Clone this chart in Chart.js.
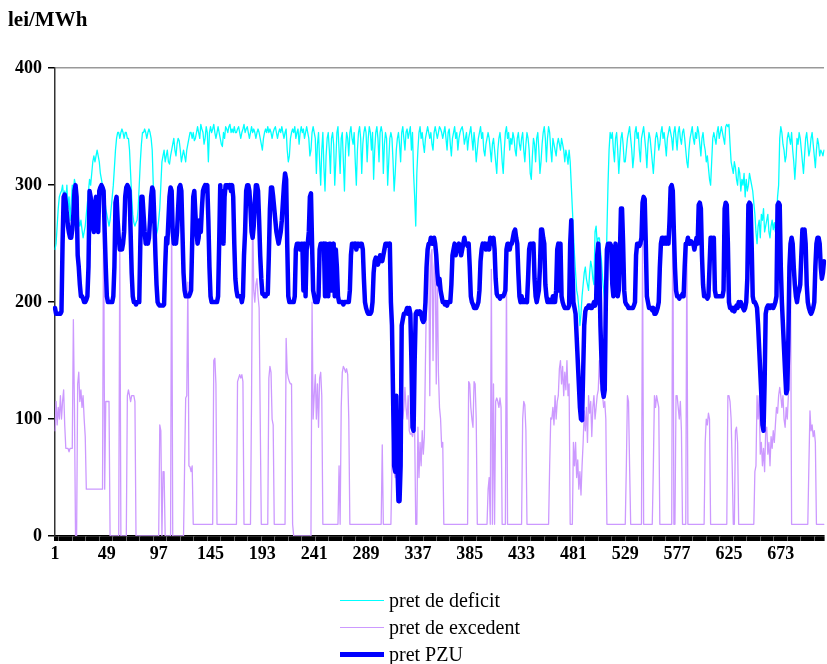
<!DOCTYPE html>
<html>
<head>
<meta charset="utf-8">
<script src="https://cdn.jsdelivr.net/npm/chart.js@4.4.1/dist/chart.umd.min.js"></script>
<style>
  html, body { margin: 0; padding: 0; background: #fff; }
  #wrap { position: relative; width: 827px; height: 664px; }
  #legend { position: absolute; left: 340px; top: 587px; font-family: "Liberation Serif", "Times New Roman", serif; font-size: 20px; color: #000; }
  .item { display: flex; align-items: center; height: 27px; }
  .swatch { width: 44px; margin-right: 5px; }
</style>
</head>
<body>
<div id="wrap">
  <canvas id="c" width="827" height="664"></canvas>
  <div id="legend"></div>
</div>
<script>
// Hourly prices for the month (lei/MWh), one row per day.
const deficit = [
  245,250,265,280,290,293,295,300,290,295,285,300,280,290,270,285,300,295,305,300,290,280,270,265,
  270,262,255,260,265,275,285,295,305,300,310,320,325,320,325,330,325,320,310,305,300,295,290,280,
  275,270,265,270,280,290,300,315,330,340,345,345,340,345,348,345,340,345,345,340,340,330,310,290,
  275,268,265,268,270,280,300,320,335,345,345,348,345,340,345,348,345,340,330,300,280,265,258,262,
  270,280,300,320,325,330,320,325,330,320,318,325,330,335,340,330,325,335,340,338,330,320,325,330,
  325,320,330,335,340,345,345,340,345,338,340,345,350,345,340,352,348,345,335,340,350,345,320,345,
  350,345,348,352,345,340,345,350,345,340,335,333,345,340,350,348,345,350,352,345,348,345,350,345,
  345,348,350,345,340,345,348,352,345,348,350,345,340,345,350,345,348,345,340,345,348,345,340,335,
  330,340,345,348,345,350,345,348,345,340,345,348,350,345,340,345,348,345,350,345,340,345,348,330,
  320,325,340,345,348,345,350,340,345,348,335,345,350,345,348,340,345,350,345,340,325,330,345,350,
  345,340,310,335,345,320,300,330,345,315,295,325,340,345,330,310,340,345,335,300,320,345,350,330,
  310,340,345,320,295,330,345,340,325,345,350,340,335,345,320,300,330,345,350,340,310,335,345,350,
  345,320,340,350,345,330,345,305,330,345,350,340,320,345,350,345,310,335,345,340,300,320,340,345,
  340,320,295,310,330,340,345,335,320,345,350,340,330,345,348,340,345,350,330,345,310,290,265,310,
  330,345,350,340,345,335,328,340,345,350,345,340,345,335,330,345,350,345,340,345,350,348,345,340,
  345,350,340,330,345,348,335,325,340,345,350,340,345,330,340,345,348,350,345,335,340,345,330,340,
  345,350,340,330,345,335,320,330,340,345,350,340,345,330,325,335,340,345,340,330,320,335,340,330,
  320,310,330,340,345,335,320,310,330,345,350,340,345,330,340,335,345,340,330,325,340,345,335,330,
  340,345,330,320,335,345,340,330,310,305,325,340,335,320,340,345,330,310,320,335,345,350,340,320,
  340,350,345,330,320,340,335,330,325,335,340,335,330,340,335,330,320,330,325,318,330,320,300,280,
  260,240,225,210,205,195,180,190,205,215,225,230,220,215,210,225,235,230,220,215,260,265,250,255,
  255,245,235,220,210,200,215,260,300,330,345,340,345,330,320,340,345,330,310,325,340,345,335,320,
  320,330,340,345,350,340,330,315,325,345,350,340,345,330,320,340,345,350,340,330,315,335,345,340,
  330,320,310,325,340,345,340,330,335,345,350,340,345,335,325,340,345,350,345,340,330,345,350,340,
  330,345,350,340,335,345,348,340,330,320,315,330,340,345,350,340,335,345,340,350,345,335,325,340,
  345,335,330,320,325,315,305,300,320,340,345,340,335,345,350,340,345,350,345,340,335,350,352,350,
  352,335,320,315,310,320,315,305,300,315,310,295,305,300,310,290,305,295,300,310,305,300,295,285,
  275,260,250,265,270,255,275,270,280,260,265,270,275,260,255,265,270,262,268,260,270,290,300,340,
  350,345,335,330,320,325,340,345,340,335,345,330,320,305,320,340,335,345,340,330,320,310,325,340,
  345,335,325,330,340,345,335,325,315,330,340,335,325,330,328,325,330
];

const excedent = [
  90,115,95,110,100,120,100,115,125,95,75,75,75,72,75,75,75,185,110,0,0,130,140,115,
  125,110,120,100,85,40,40,40,40,40,40,40,40,40,40,40,40,40,40,40,40,290,40,115,
  115,115,115,0,0,0,0,0,0,0,0,0,250,0,0,0,0,0,0,120,125,120,115,120,
  120,120,115,0,0,0,0,0,0,0,0,0,0,0,0,0,0,0,0,0,0,0,0,0,
  0,95,90,0,55,55,0,0,0,0,0,0,290,0,0,0,0,0,0,0,0,0,0,0,
  60,118,120,217,60,59,55,60,10,10,10,10,10,10,10,10,10,10,10,10,10,10,10,10,
  10,10,10,150,152,130,10,10,10,10,10,10,10,10,10,10,10,10,10,10,10,10,10,10,
  10,132,135,138,135,138,132,10,10,10,10,10,10,10,120,285,210,200,215,220,205,195,100,10,
  10,10,10,10,10,10,135,145,140,100,95,10,10,10,10,10,10,10,10,10,10,10,169,140,
  135,132,130,130,10,0,0,0,0,0,0,0,0,0,0,0,0,0,0,0,0,0,200,100,
  120,138,100,130,93,135,140,120,10,10,10,10,10,10,10,10,10,10,10,10,10,10,10,60,
  10,110,140,145,143,140,143,138,100,10,10,10,10,10,10,10,10,10,10,10,10,10,10,10,
  10,10,10,10,10,10,10,10,10,10,10,10,10,10,10,78,10,10,10,10,10,10,10,10,
  60,93,55,50,100,55,28,28,55,120,100,110,127,110,100,120,90,87,88,85,90,90,10,10,
  93,50,80,60,90,70,85,150,210,240,245,120,240,245,150,230,240,130,225,140,110,100,76,80,
  10,10,10,10,10,10,10,10,10,10,10,10,10,10,10,10,10,10,10,10,10,10,10,132,
  130,110,100,93,132,130,100,10,10,10,10,10,10,10,10,10,10,40,50,10,228,10,130,10,
  115,118,115,110,118,110,10,10,10,10,225,10,10,10,10,10,10,10,10,10,10,10,10,10,
  10,100,115,112,90,10,10,10,10,10,10,10,10,10,10,10,10,10,10,10,10,10,10,10,
  10,10,60,101,100,110,95,120,100,115,120,143,150,130,145,120,140,125,150,120,130,10,10,10,
  80,60,80,50,65,40,55,35,60,80,107,90,110,80,120,105,115,85,110,120,100,110,120,125,
  150,130,150,120,110,115,100,10,10,10,10,10,10,10,10,10,10,10,10,10,10,10,10,10,
  10,60,120,115,60,10,10,10,10,10,10,10,10,10,10,10,250,10,10,10,10,10,10,10,
  10,10,60,120,110,120,115,110,10,10,10,10,10,10,10,10,10,10,10,10,295,10,10,120,
  120,110,100,115,90,10,10,10,10,250,10,10,10,10,10,10,10,10,10,10,10,10,10,10,
  10,10,80,100,95,105,100,10,10,10,10,10,10,10,10,10,10,10,10,10,10,10,10,120,
  120,115,100,60,10,10,90,93,80,10,10,10,10,10,10,10,10,10,10,10,10,10,10,10,
  55,60,120,100,120,70,80,60,75,55,90,93,70,80,60,85,75,90,80,95,110,105,120,127,
  120,110,120,100,93,110,100,120,150,225,10,10,10,10,10,10,10,10,10,10,10,10,10,10,
  10,10,60,107,90,95,85,90,80,10,10,10,10,10,10,10,10
];

const pzu = [
  195,190,190,190,190,190,192,250,290,292,285,275,265,259,255,255,262,275,295,300,290,240,230,215,
  205,205,203,200,200,202,205,230,295,290,275,265,260,285,290,270,260,295,298,300,298,295,260,230,
  205,200,200,200,200,200,205,230,285,290,270,255,245,248,245,250,260,290,298,300,298,295,260,225,
  205,200,200,198,200,200,200,250,290,290,275,260,250,255,250,255,270,290,298,295,270,240,215,200,
  198,197,197,197,197,198,230,255,250,270,290,298,295,260,250,255,250,260,280,298,300,295,260,225,
  210,205,205,205,205,207,210,250,290,295,275,260,250,255,270,260,280,295,298,300,295,300,270,230,
  205,200,200,200,200,200,200,205,250,300,260,295,250,290,300,300,300,298,300,295,300,290,250,220,
  210,205,205,205,205,200,205,240,260,295,300,300,295,280,260,255,265,285,300,300,295,270,240,220,
  207,207,205,205,207,207,240,280,298,298,290,280,270,260,255,250,255,260,270,285,300,310,305,250,
  205,200,200,200,200,200,205,245,250,250,250,245,250,250,210,250,205,245,250,260,290,293,250,210,
  205,200,200,200,205,245,250,250,248,250,205,250,245,205,250,250,210,245,250,205,245,230,205,200,
  200,200,200,198,200,200,200,200,200,210,240,250,250,248,250,245,250,250,248,250,250,245,220,200,
  195,192,190,190,190,192,200,225,235,238,235,232,235,240,238,235,240,245,250,250,250,248,250,200,
  180,120,60,55,120,60,30,30,60,180,185,190,190,192,195,190,195,190,150,93,90,150,190,192,
  192,190,192,190,185,183,185,200,230,245,250,250,255,250,250,255,250,240,225,215,220,210,205,200,
  200,198,200,197,200,200,200,215,240,245,250,240,248,245,250,245,240,245,250,255,250,250,248,250,
  230,205,200,198,195,195,195,197,200,210,235,245,250,248,250,245,250,250,245,255,250,252,255,245,
  220,207,205,205,203,205,205,205,207,210,245,250,250,245,250,250,255,260,262,255,250,225,205,200,
  205,200,200,200,202,200,220,245,250,250,248,250,220,205,200,205,210,230,262,262,255,250,215,205,
  200,200,202,200,200,205,200,200,210,245,250,210,250,205,200,197,195,195,195,195,197,250,270,230,
  200,195,190,170,150,130,110,100,99,140,180,192,195,195,197,197,195,195,197,200,197,200,240,250,
  230,180,150,125,119,125,200,245,250,250,250,248,215,205,210,250,215,205,210,240,280,280,250,210,
  200,198,197,195,195,195,195,195,197,200,240,250,250,248,250,255,285,290,288,250,205,200,195,195,
  195,193,195,190,190,192,195,200,230,250,255,255,250,255,250,255,250,270,298,300,295,260,230,210,
  205,205,203,205,205,207,205,230,250,250,255,250,250,252,250,250,245,250,255,250,283,285,280,240,
  215,205,205,205,203,205,230,255,255,250,255,210,205,205,205,205,205,205,205,210,280,285,283,250,
  200,195,195,193,195,192,195,197,195,200,197,200,197,195,193,195,200,220,283,285,283,250,205,200,
  200,198,195,180,160,140,120,95,90,130,190,195,197,197,195,197,197,195,197,200,205,283,285,283,
  230,200,180,160,140,122,125,170,230,250,255,250,230,215,205,200,207,210,215,240,262,260,262,250,
  215,200,195,192,190,192,195,200,230,250,255,255,250,230,220,225,235
];

// Hour numbers along the category axis and the ones that carry a label.
const hours = pzu.map((_, i) => String(i + 1));
const labelledHours = ['1','49','97','145','193','241','289','337','385','433','481','529','577','625','673'];

const serif = '"Liberation Serif", "Times New Roman", serif';

const chart = new Chart(document.getElementById('c'), {
  type: 'line',
  data: {
    labels: hours,
    datasets: [
      { label: 'pret de deficit', data: deficit, borderColor: '#00ffff', borderWidth: 1.3, order: 2 },
      { label: 'pret de excedent', data: excedent, borderColor: '#cc99ff', borderWidth: 1.3, order: 1 },
      { label: 'pret PZU', data: pzu, borderColor: '#0000ff', borderWidth: 4.5, order: 0 }
    ]
  },
  options: {
    responsive: false,
    animation: false,
    devicePixelRatio: 1,
    elements: {
      point: { radius: 0, hoverRadius: 0 },
      line: { tension: 0, borderJoinStyle: 'round', borderCapStyle: 'round' }
    },
    layout: { padding: { left: 8, right: 0, top: 0, bottom: 88 } },
    plugins: {
      legend: { display: false },
      tooltip: { enabled: false },
      title: {
        display: true,
        text: 'lei/MWh',
        align: 'start',
        color: '#000',
        font: { family: serif, size: 21, weight: 'bold' },
        padding: { top: 8, bottom: 35 }
      }
    },
    scales: {
      x: {
        type: 'category',
        afterFit: (s) => { s.height = 40; },
        ticks: {
          autoSkip: false,
          maxRotation: 0,
          minRotation: 0,
          padding: 3,
          color: '#000',
          font: { family: serif, size: 18, weight: 'bold' },
          callback: function (v) {
            const l = this.getLabelForValue(v);
            return labelledHours.includes(l) ? l : '';
          }
        },
        // one tick mark per hour, which merges into a dark band under the axis
        grid: { drawOnChartArea: false, drawTicks: true, tickLength: 5, color: '#000', lineWidth: 1.6 },
        border: { color: '#000', width: 1.5 }
      },
      y: {
        min: 0,
        max: 400,
        afterFit: (s) => { s.width = 47; },
        ticks: {
          stepSize: 100,
          padding: 6,
          color: '#000',
          font: { family: serif, size: 18, weight: 'bold' }
        },
        grid: {
          color: (ctx) => (ctx.tick && ctx.tick.value === 400 ? '#999' : 'rgba(0,0,0,0)'),
          tickColor: '#000',
          tickLength: 7,
          lineWidth: 1.5
        },
        border: { color: '#333', width: 1.5 }
      }
    }
  }
});

// Legend stacked in a column under the plot, built from the datasets.
const legend = document.getElementById('legend');
chart.data.datasets.forEach((ds) => {
  const row = document.createElement('div');
  row.className = 'item';
  const sw = document.createElement('div');
  sw.className = 'swatch';
  sw.style.height = Math.max(1, Math.round(ds.borderWidth)) + 'px';
  sw.style.background = ds.borderColor;
  const tx = document.createElement('span');
  tx.textContent = ds.label;
  row.appendChild(sw);
  row.appendChild(tx);
  legend.appendChild(row);
});
</script>
</body>
</html>
